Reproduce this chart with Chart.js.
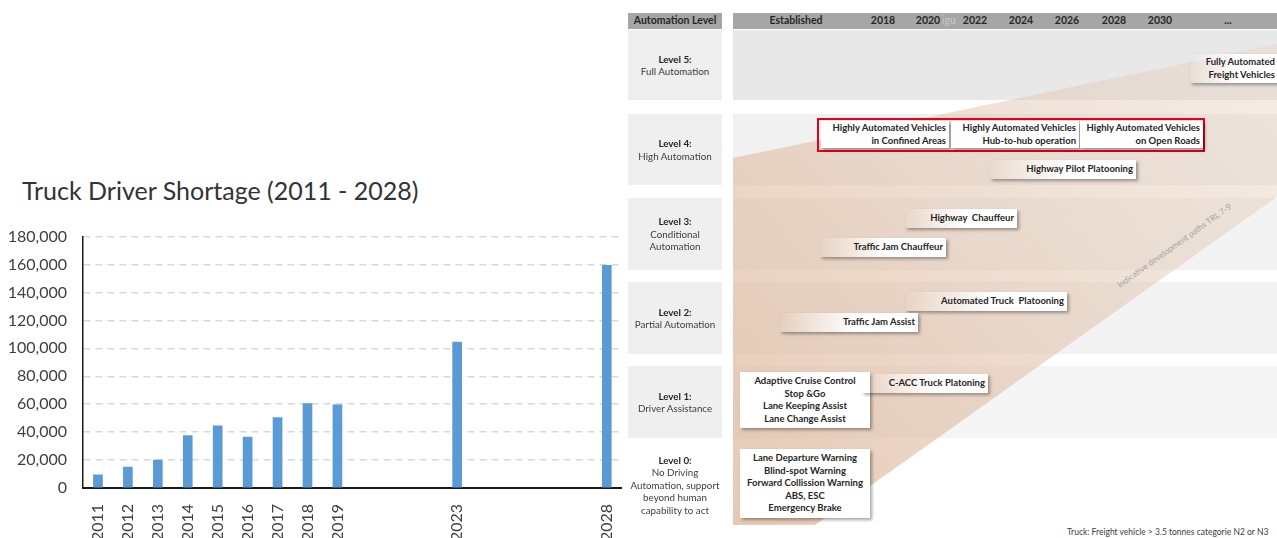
<!DOCTYPE html>
<html>
<head>
<meta charset="utf-8">
<script src="https://cdn.jsdelivr.net/npm/chart.js@4"></script>
<style>
  html,body{margin:0;padding:0;background:#fff;}
  body{width:1277px;height:538px;position:relative;overflow:hidden;font-family:Lato,"Open Sans",sans-serif;}
  .abs{position:absolute;}
  .hdr{position:absolute;top:13px;height:16px;background:#a6a6a6;}
  .hdr span{position:absolute;top:1px;font-size:10.5px;font-weight:700;color:#262626;transform:translateX(-50%);white-space:nowrap}
  .lvl{position:absolute;left:628px;width:94px;display:flex;flex-direction:column;justify-content:center;align-items:center;text-align:center;font-size:9.8px;line-height:12.5px;color:#404040}
  .lvl b{color:#262626}
  .box{position:absolute;background:#fff;box-shadow:2px 2px 3px rgba(0,0,0,.35);font-size:9.5px;font-weight:700;line-height:12.5px;color:#262626;white-space:nowrap}
  .fade{background:linear-gradient(to right,rgba(255,255,255,0),#fff 55%)}
</style>
</head>
<body>

<!-- left: bar chart -->
<div class="abs" style="left:22px;top:175px;font-size:25px;color:#333;white-space:nowrap">Truck Driver Shortage (2011 - 2028)</div>
<div class="abs" style="left:0;top:211px;width:634px;height:327px">
  <canvas id="shortage" width="634" height="327"></canvas>
</div>

<!-- right: automation roadmap -->
<svg class="abs" style="left:733px;top:0" width="544" height="538">
  <defs>
    <linearGradient id="beige" gradientUnits="userSpaceOnUse" x1="0" y1="525" x2="544" y2="44">
      <stop offset="0" stop-color="#d9ad8c" stop-opacity="0.66"/>
      <stop offset="1" stop-color="#e6d3c4" stop-opacity="0.42"/>
    </linearGradient>
  </defs>
  <rect x="0" y="30" width="544" height="70" fill="#e8e8e8"/>
  <rect x="0" y="114" width="544" height="71" fill="#f1f1f1"/>
  <rect x="0" y="198" width="544" height="72" fill="#f3f3f3"/>
  <rect x="0" y="282" width="544" height="72" fill="#f3f3f3"/>
  <rect x="0" y="366" width="544" height="72" fill="#f5f5f5"/>
  <polygon points="0,158 544,44 544,197 82,525 0,525" fill="url(#beige)"/>
  <text x="0" y="0" transform="translate(443,248) rotate(-35.5)" text-anchor="middle" font-family="Lato" font-size="8.3" fill="#a3a3a3">Indicative development paths TRL 7-9</text>
</svg>

<div class="hdr" style="left:628px;width:94px"><span style="left:47px">Automation Level</span></div>
<div class="hdr" style="left:733px;width:544px">
  <span style="left:63px">Established</span>
  <span style="left:150px">2018</span>
  <span style="left:195px">2020</span>
  <span style="left:216px;color:#c8c8c8;font-weight:400">igu</span>
  <span style="left:242px">2022</span>
  <span style="left:288px">2024</span>
  <span style="left:334px">2026</span>
  <span style="left:381px">2028</span>
  <span style="left:427px">2030</span>
  <span style="left:495px">...</span>
</div>

<div class="lvl" style="top:30px;height:70px;background:#efefef"><b>Level 5:</b>Full Automation</div>
<div class="lvl" style="top:114px;height:71px;background:#efefef"><b>Level 4:</b>High Automation</div>
<div class="lvl" style="top:198px;height:72px;background:#efefef"><b>Level 3:</b>Conditional<br>Automation</div>
<div class="lvl" style="top:282px;height:72px;background:#efefef"><b>Level 2:</b>Partial Automation</div>
<div class="lvl" style="top:366px;height:72px;background:#efefef"><b>Level 1:</b>Driver Assistance</div>
<div class="lvl" style="top:446px;height:78px"><b>Level 0:</b>No Driving<br>Automation, support<br>beyond human<br>capability to act</div>

<div class="box fade" style="left:1190px;top:54px;width:82px;padding:2px 3px;text-align:right">Fully Automated<br>Freight Vehicles</div>

<div class="abs" style="left:817px;top:118px;width:384px;height:30px;border:2.5px solid #e2001a"></div>
<div class="box" style="left:821px;top:121px;width:122px;padding:1px 3px;text-align:right">Highly Automated Vehicles<br>in Confined Areas</div>
<div class="box" style="left:951px;top:121px;width:122px;padding:1px 3px;text-align:right">Highly Automated Vehicles<br>Hub-to-hub operation</div>
<div class="box" style="left:1080px;top:121px;width:117px;padding:1px 3px;text-align:right">Highly Automated Vehicles<br>on Open Roads</div>
<div class="box fade" style="left:990px;top:160px;width:140px;padding:3px 3px;text-align:right">Highway Pilot Platooning</div>

<div class="box fade" style="left:905px;top:209px;width:106px;padding:3px 3px;text-align:right">Highway&nbsp; Chauffeur</div>
<div class="box fade" style="left:820px;top:238px;width:120px;padding:3px 3px;text-align:right">Traffic Jam Chauffeur</div>

<div class="box fade" style="left:905px;top:292px;width:156px;padding:3px 3px;text-align:right">Automated Truck&nbsp; Platooning</div>
<div class="box fade" style="left:780px;top:313px;width:132px;padding:3px 3px;text-align:right">Traffic Jam Assist</div>

<div class="box" style="left:740px;top:372px;width:130px;padding:3px 0;text-align:center">Adaptive Cruise Control<br>Stop &amp;Go<br>Lane Keeping Assist<br>Lane Change Assist</div>
<div class="box fade" style="left:862px;top:374px;width:120px;padding:3px 3px;text-align:right">C-ACC Truck Platoning</div>

<div class="box" style="left:740px;top:449px;width:130px;padding:3px 0;text-align:center">Lane Departure Warning<br>Blind-spot Warning<br>Forward Collission Warning<br>ABS, ESC<br>Emergency Brake</div>

<div class="abs" style="left:1067px;top:527px;font-size:8.5px;color:#404040;white-space:nowrap">Truck: Freight vehicle &gt; 3.5 tonnes categorie N2 or N3</div>

<script>
// values
const years = [2011, 2012, 2013, 2014, 2015, 2016, 2017, 2018, 2019, 2023, 2028];
const shortage = [9500, 15000, 20000, 37500, 44500, 36500, 50500, 60500, 59500, 104500, 159500];
const yMax = 180000;
const yStep = 20000;

// the axis runs year by year, only data years get a label
const axisYears = [];
for (let y = years[0]; y <= years[years.length - 1]; y++) axisYears.push(y);
const barData = axisYears.map(y => {
  const i = years.indexOf(y);
  return i < 0 ? null : shortage[i];
});

const FONT = 'Lato, "Open Sans", sans-serif';

new Chart(document.getElementById('shortage'), {
  type: 'bar',
  data: {
    labels: axisYears.map(String),
    datasets: [{ data: barData, backgroundColor: '#5b9bd5', barThickness: 9 }]
  },
  options: {
    responsive: false, animation: false,
    layout: { padding: { top: 17, right: 0, left: 0, bottom: 0 } },
    plugins: { legend: { display: false }, tooltip: { enabled: false } },
    scales: {
      x: {
        offset: true,
        grid: { display: false },
        border: { color: '#1a1a1a', width: 2 },
        ticks: {
          autoSkip: false, minRotation: 90, maxRotation: 90, padding: 8,
          color: '#404040', font: { family: FONT, size: 16 },
          callback: (v, i) => years.includes(axisYears[i]) ? String(axisYears[i]) : ''
        },
        afterFit: s => { s.height = 50; }
      },
      y: {
        min: 0, max: yMax,
        grid: { color: '#d9d9d9', lineWidth: 1.5, drawTicks: false },
        border: { color: '#1a1a1a', width: 1.5, dash: [7, 5] },
        ticks: {
          stepSize: yStep, padding: 16,
          color: '#404040', font: { family: FONT, size: 16 },
          callback: v => v.toLocaleString('en-US')
        },
        afterFit: s => { s.width = 83; }
      }
    }
  }
});
</script>
</body>
</html>
